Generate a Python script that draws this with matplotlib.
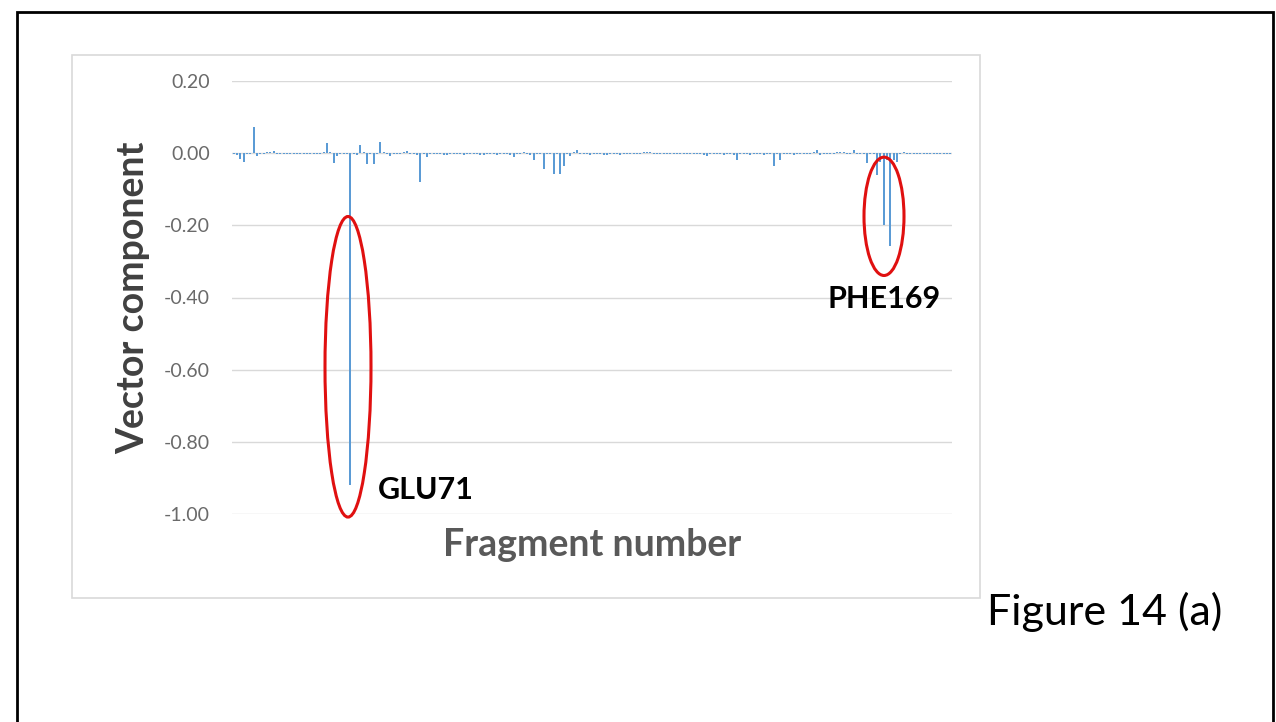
import matplotlib.pyplot as plt
from matplotlib.patches import Ellipse, Rectangle

# vector component per fragment
values = [
    -0.003, -0.004, -0.015, -0.025, -0.003, -0.002, 0.072, -0.008, -0.003, -0.002, 0.002, 0.004,
    0.006, -0.002, -0.003, -0.003, -0.002, -0.003, -0.003, -0.002, -0.003, -0.003, -0.002, -0.003,
    -0.003, -0.002, -0.003, 0.004, 0.028, 0.003, -0.028, -0.008, -0.002, -0.003, -0.002, -0.920,
    -0.003, -0.004, 0.022, 0.003, -0.030, -0.003, -0.030, -0.002, 0.030, 0.003, -0.003, -0.008,
    -0.002, -0.003, -0.002, 0.002, 0.005, -0.003, -0.002, -0.004, -0.080, -0.003, -0.010, -0.002,
    -0.003, -0.003, -0.002, -0.004, -0.004, -0.003, -0.002, -0.003, -0.003, -0.004, -0.002, -0.003,
    -0.003, -0.002, -0.004, -0.004, -0.003, -0.002, -0.003, -0.004, -0.003, -0.002, -0.003, -0.004,
    -0.010, -0.002, -0.003, 0.002, -0.003, -0.004, -0.020, -0.003, -0.002, -0.045, -0.003, -0.002,
    -0.058, -0.003, -0.058, -0.035, -0.003, -0.008, 0.003, 0.010, -0.003, -0.002, -0.003, -0.004,
    -0.003, -0.002, -0.003, -0.004, -0.006, -0.003, -0.002, -0.003, -0.004, -0.003, -0.002, -0.003,
    -0.003, -0.002, -0.003, 0.002, 0.004, 0.002, -0.003, -0.002, -0.003, -0.003, -0.002, -0.003,
    -0.003, -0.002, -0.003, -0.003, -0.002, -0.003, -0.003, -0.002, -0.003, -0.004, -0.008, -0.003,
    -0.002, -0.003, -0.003, -0.004, -0.002, -0.003, -0.004, -0.020, -0.003, -0.002, -0.003, -0.004,
    -0.003, -0.002, -0.003, -0.006, -0.002, -0.003, -0.035, -0.003, -0.020, -0.002, -0.003, -0.003,
    -0.005, -0.003, -0.002, -0.003, -0.003, -0.002, 0.002, 0.010, -0.004, -0.003, -0.002, -0.003,
    -0.003, 0.002, 0.004, 0.004, -0.003, -0.002, 0.008, -0.003, -0.002, -0.003, -0.028, -0.003,
    -0.003, -0.060, -0.025, -0.200, -0.020, -0.257, -0.020, -0.025, -0.003, 0.003, -0.003, -0.002,
    -0.003, -0.003, -0.002, -0.003, -0.003, -0.002, -0.003, -0.003, -0.002, -0.003, -0.003, -0.002,
]
fragments = list(range(len(values)))
y_ticks = [0.2, 0.0, -0.2, -0.4, -0.6, -0.8, -1.0]

fig = plt.figure(figsize=(12.76, 7.22), dpi=100)

# outer frame and chart frame
fig.patches.append(Rectangle((17 / 1276, -0.01), (1273 - 17) / 1276, 1 - 12 / 722 + 0.01,
                             transform=fig.transFigure, fill=False, edgecolor="black", lw=2))
fig.patches.append(Rectangle((72 / 1276, 1 - 598 / 722), (980 - 72) / 1276, (598 - 55) / 722,
                             transform=fig.transFigure, fill=False, edgecolor="#d9d9d9", lw=1.2))

ax = fig.add_axes([232 / 1276, 1 - 514 / 722, (952 - 232) / 1276, (514 - 81) / 722])
ax.bar(fragments, values, width=0.6, color="#5b9bd5", zorder=3)
ax.set_xlim(-0.5, len(values) - 0.5)
ax.set_ylim(-1.0, 0.2)
ax.set_yticks(y_ticks)
ax.set_yticklabels([f"{t:.2f}" for t in y_ticks], fontfamily="Lato", fontsize=14, color="#6a6a6a")
ax.set_xticks([])
ax.tick_params(axis="y", length=0, pad=16)
ax.grid(axis="y", color="#d9d9d9", lw=1)
for s in ax.spines.values():
    s.set_visible(False)

ax.set_ylabel("Vector component", fontfamily="Lato", fontweight="bold", fontsize=27,
              color="#404040", labelpad=10)
ax.set_xlabel("Fragment number", fontfamily="Lato", fontweight="bold", fontsize=27,
              color="#595959", labelpad=10)

# red ellipses around highlighted fragments
ax.add_patch(Ellipse((34.3, -0.592), 13.8, 0.833, fill=False, edgecolor="#e01010", lw=2.2,
                     zorder=4, clip_on=False))
ax.add_patch(Ellipse((195.1, -0.175), 12, 0.328, fill=False, edgecolor="#e01010", lw=2.2,
                     zorder=4, clip_on=False))

ax.text(43.3, -0.933, "GLU71", fontfamily="Lato", fontweight="bold", fontsize=22,
        color="black", va="center", ha="left")
ax.text(212, -0.405, "PHE169", fontfamily="Lato", fontweight="bold", fontsize=22,
        color="black", va="center", ha="right")

fig.text(1105 / 1276, 1 - 612 / 722, "Figure 14 (a)", fontfamily="Lato", fontsize=31,
         color="black", ha="center", va="center")

fig.savefig("out.png", dpi=100)
